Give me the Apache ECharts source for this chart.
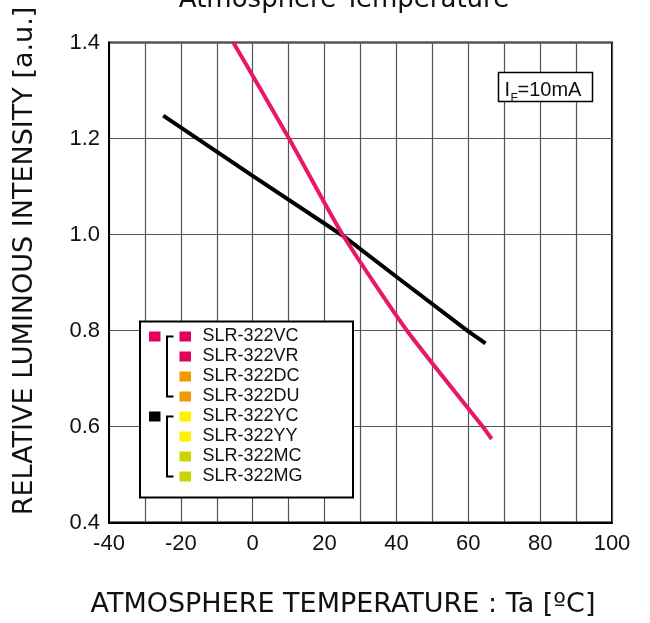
<!DOCTYPE html>
<html>
<head>
<meta charset="utf-8">
<script src="https://cdn.jsdelivr.net/npm/echarts@6/dist/echarts.min.js"></script>
<style>
html,body{margin:0;padding:0;background:#fff;}
#main{width:650px;height:623px;}
</style>
</head>
<body>
<div id="main"></div>
<script>
// ---- data ----
var titleText = 'Atmosphere Temperature';
var xName = 'ATMOSPHERE TEMPERATURE : Ta [\u00BAC]';
var yName = 'RELATIVE LUMINOUS INTENSITY [a.u.]';
var xTickLabels = [-40, -20, 0, 20, 40, 60, 80, 100];
var yTickLabels = [0.4, 0.6, 0.8, 1.0, 1.2, 1.4];

var pinkTemp = [-5.4, 10.1, 25.0, 42.9, 64.0, 66.5];
var pinkVal  = [1.40, 1.20, 1.00, 0.80, 0.60, 0.574];

var blackTemp = [-24.9, 0, 25, 40, 60, 64.8];
var blackVal  = [1.2475, 1.122, 0.998, 0.912, 0.798, 0.773];

var legendNames  = ['SLR-322VC', 'SLR-322VR', 'SLR-322DC', 'SLR-322DU', 'SLR-322YC', 'SLR-322YY', 'SLR-322MC', 'SLR-322MG'];
var legendColors = ['#e2005a', '#e2005a', '#f39800', '#f39800', '#fff100', '#fff100', '#c9d400', '#c9d400'];
var groupColors  = ['#e2005a', '#000000'];
var conditionMain = 'I';
var conditionSub = 'F';
var conditionRest = '=10mA';

function pairs(xs, ys) { return xs.map(function (x, i) { return [x, ys[i]]; }); }

// ---- graphics: legend box, condition box, titles ----
var lgX = 140, lgY = 321.5, lgW = 213, lgH = 176;
var rowY0 = 336.5, rowStep = 20;
var elems = [];
elems.push({type:'rect', z:100, shape:{x:lgX, y:lgY, width:lgW, height:lgH}, style:{fill:'#fff', stroke:'#000', lineWidth:2}});
legendNames.forEach(function (n, i) {
  var cy = rowY0 + i * rowStep;
  elems.push({type:'rect', z:101, shape:{x:179.5, y:cy - 5, width:11.5, height:10}, style:{fill:legendColors[i]}});
  elems.push({type:'text', z:101, x:202.5, y:cy, style:{text:n, fill:'#111', font:'18px "Liberation Sans", Arial, sans-serif', textAlign:'left', textVerticalAlign:'middle'}});
});
groupColors.forEach(function (c, g) {
  var top = rowY0 + g * 4 * rowStep;
  var bot = top + 3 * rowStep;
  elems.push({type:'rect', z:101, shape:{x:149, y:top - 5, width:11.5, height:10}, style:{fill:c}});
  elems.push({type:'polyline', z:101, shape:{points:[[173.5, top], [167, top], [167, bot], [173.5, bot]]}, style:{stroke:'#000', lineWidth:2, fill:null}});
});
// condition box
elems.push({type:'rect', z:100, shape:{x:498.5, y:72.5, width:94, height:29}, style:{fill:'#fff', stroke:'#000', lineWidth:1.5}});
elems.push({type:'text', z:101, x:504.5, y:90.5, style:{text:conditionMain, fill:'#111', font:'20px "Liberation Sans", Arial, sans-serif', textAlign:'left', textVerticalAlign:'middle'}});
elems.push({type:'text', z:101, x:510.5, y:98.5, style:{text:conditionSub, fill:'#111', font:'12px "Liberation Sans", Arial, sans-serif', textAlign:'left', textVerticalAlign:'middle'}});
elems.push({type:'text', z:101, x:517.5, y:90.5, style:{text:conditionRest, fill:'#111', font:'20px "Liberation Sans", Arial, sans-serif', textAlign:'left', textVerticalAlign:'middle'}});
// title (partly cut off at top)
elems.push({type:'text', z:101, x:344, y:0, style:{text:titleText, fill:'#111', font:'26px "DejaVu Sans", Verdana, sans-serif', textAlign:'center', textVerticalAlign:'middle'}});
// axis names
elems.push({type:'text', z:101, x:343, y:605, style:{text:xName, fill:'#111', font:'27px "DejaVu Sans", Verdana, sans-serif', textAlign:'center', textVerticalAlign:'middle'}});
elems.push({type:'text', z:101, x:25, y:261, rotation:Math.PI / 2, style:{text:yName, fill:'#111', font:'27px "DejaVu Sans", Verdana, sans-serif', textAlign:'center', textVerticalAlign:'middle'}});

var chart = echarts.init(document.getElementById('main'), null, {renderer:'canvas'});
chart.setOption({
  backgroundColor:'#ffffff',
  animation:false,
  grid:{left:109, right:38, top:42.5, bottom:100.5, show:true, borderColor:'#000', borderWidth:2, backgroundColor:'transparent'},
  xAxis:{
    type:'value', min:-40, max:100, interval:10,
    axisLine:{show:true, onZero:false, lineStyle:{color:'#000', width:2}},
    axisTick:{show:false},
    axisLabel:{
      fontFamily:'Liberation Sans', fontSize:22, color:'#111', margin:10,
      formatter:function (v) { return xTickLabels.indexOf(Math.round(v)) >= 0 ? String(Math.round(v)) : ''; }
    },
    splitLine:{show:true, lineStyle:{color:'#555', width:1.2}}
  },
  yAxis:{
    type:'value', min:0.4, max:1.4, interval:0.2,
    axisLine:{show:true, onZero:false, lineStyle:{color:'#000', width:2}},
    axisTick:{show:false},
    axisLabel:{
      fontFamily:'Liberation Sans', fontSize:22, color:'#111', margin:9,
      formatter:function (v) {
        for (var i = 0; i < yTickLabels.length; i++) if (Math.abs(yTickLabels[i] - v) < 1e-6) return yTickLabels[i].toFixed(1);
        return '';
      }
    },
    splitLine:{show:true, lineStyle:{color:'#555', width:1.2}}
  },
  series:[
    {type:'line', data:pairs(blackTemp, blackVal), showSymbol:false, smooth:false, lineStyle:{color:'#000', width:4, join:'round'}, z:5},
    {type:'line', data:pairs(pinkTemp, pinkVal), showSymbol:false, smooth:0.2, lineStyle:{color:'#e8176a', width:4, join:'round'}, z:6}
  ],
  graphic:{elements:elems}
});
</script>
</body>
</html>
